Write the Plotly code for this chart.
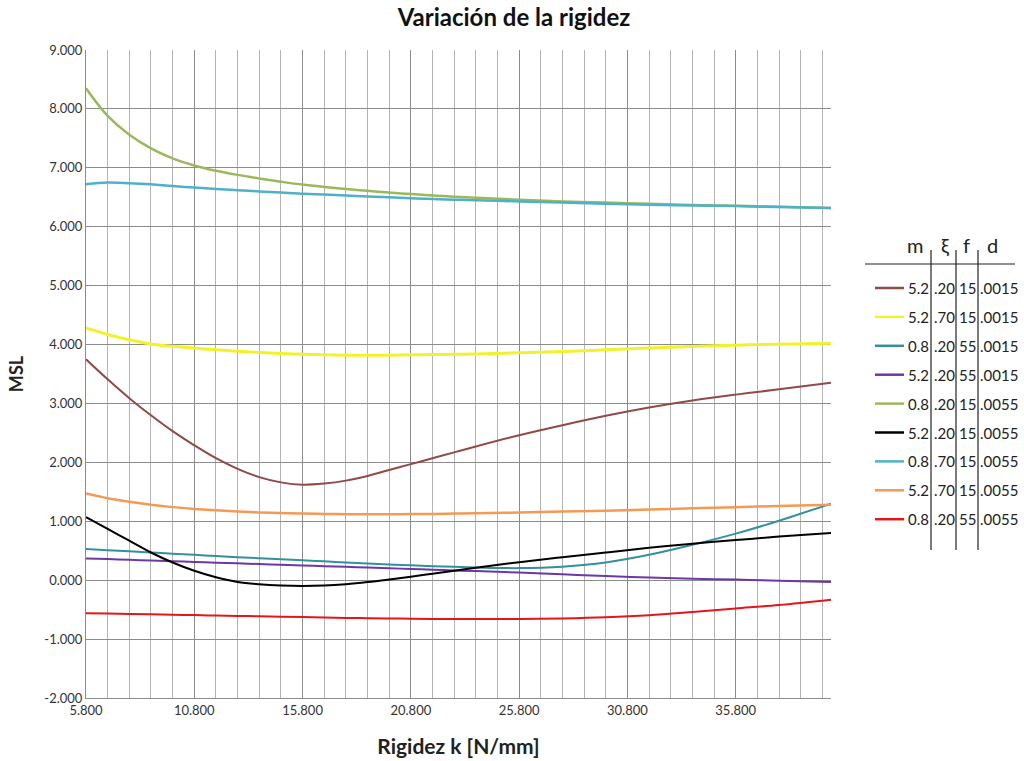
import plotly.graph_objects as go

# ---- data ----
k_vals = [5.8, 6.8, 7.8, 8.8, 9.8, 10.8, 11.8, 12.8, 13.8, 14.8, 15.8, 16.8, 17.8, 18.8,
          19.8, 20.8, 21.8, 22.8, 23.8, 25.8, 27.8, 29.8, 31.8, 33.8, 35.8, 37.8, 40.2]

brown = [3.75, 3.41, 3.09, 2.80, 2.53, 2.29, 2.07, 1.89, 1.75, 1.66, 1.62, 1.64, 1.69, 1.77,
         1.87, 1.97, 2.07, 2.17, 2.27, 2.46, 2.63, 2.79, 2.93, 3.05, 3.15, 3.24, 3.35]
yellow = [4.28, 4.17, 4.08, 4.01, 3.97, 3.94, 3.91, 3.885, 3.865, 3.85, 3.835, 3.825, 3.82, 3.82,
          3.82, 3.825, 3.83, 3.835, 3.84, 3.86, 3.88, 3.91, 3.94, 3.965, 3.99, 4.005, 4.02]
teal = [0.53, 0.51, 0.49, 0.47, 0.45, 0.43, 0.41, 0.39, 0.372, 0.355, 0.338, 0.32, 0.302, 0.285,
        0.268, 0.252, 0.238, 0.226, 0.216, 0.205, 0.23, 0.30, 0.43, 0.60, 0.79, 1.01, 1.30]
purple = [0.37, 0.358, 0.346, 0.334, 0.322, 0.31, 0.298, 0.286, 0.274, 0.262, 0.25, 0.238, 0.226, 0.214,
          0.202, 0.19, 0.178, 0.166, 0.154, 0.13, 0.10, 0.07, 0.045, 0.025, 0.01, -0.01, -0.03]
green = [8.35, 7.88, 7.56, 7.33, 7.16, 7.04, 6.95, 6.88, 6.82, 6.765, 6.715, 6.675, 6.64, 6.61,
         6.58, 6.555, 6.53, 6.51, 6.49, 6.46, 6.43, 6.41, 6.39, 6.37, 6.355, 6.34, 6.32]
black = [1.07, 0.87, 0.67, 0.47, 0.30, 0.16, 0.05, -0.03, -0.07, -0.092, -0.10, -0.092, -0.068, -0.032,
         0.012, 0.06, 0.11, 0.16, 0.21, 0.305, 0.39, 0.47, 0.55, 0.62, 0.68, 0.74, 0.80]
lightblue = [6.72, 6.75, 6.74, 6.72, 6.69, 6.665, 6.64, 6.62, 6.60, 6.58, 6.56, 6.545, 6.53, 6.515,
             6.50, 6.485, 6.47, 6.46, 6.45, 6.43, 6.41, 6.39, 6.375, 6.36, 6.35, 6.335, 6.32]
orange = [1.47, 1.39, 1.33, 1.28, 1.24, 1.21, 1.185, 1.165, 1.15, 1.14, 1.13, 1.125, 1.12, 1.12,
          1.12, 1.122, 1.125, 1.13, 1.135, 1.15, 1.165, 1.18, 1.20, 1.22, 1.24, 1.26, 1.28]
red = [-0.56, -0.567, -0.573, -0.58, -0.587, -0.593, -0.60, -0.607, -0.613, -0.62, -0.627, -0.633, -0.64, -0.645,
       -0.65, -0.654, -0.657, -0.659, -0.66, -0.66, -0.65, -0.63, -0.595, -0.54, -0.48, -0.42, -0.33]

leg_m = ["5.2", "5.2", "0.8", "5.2", "0.8", "5.2", "0.8", "5.2", "0.8"]
leg_xi = [".20", ".70", ".20", ".20", ".20", ".20", ".70", ".70", ".20"]
leg_f = ["15", "15", "55", "55", "15", "15", "15", "15", "55"]
leg_d = [".0015", ".0015", ".0015", ".0015", ".0055", ".0055", ".0055", ".0055", ".0055"]
header = ["m", "ξ", "f", "d"]

x_ticks = [5.8, 10.8, 15.8, 20.8, 25.8, 30.8, 35.8]
y_ticks = [-2, -1, 0, 1, 2, 3, 4, 5, 6, 7, 8, 9]

series = [brown, yellow, teal, purple, green, black, lightblue, orange, red]
colors = ["#8f4a4a", "#f2f22c", "#33909d", "#6f36a6", "#9bb85a", "#000000", "#4fb1c8", "#f39a55", "#e3161b"]
widths = [2, 3, 2, 2, 2.5, 2, 2.5, 2.5, 2]

# ---- figure ----
fig = go.Figure()
for ys, c, w, m, xi, f, d in zip(series, colors, widths, leg_m, leg_xi, leg_f, leg_d):
    fig.add_trace(go.Scatter(x=k_vals, y=ys, mode="lines",
                             line=dict(color=c, width=w, shape="spline", smoothing=1.0),
                             name=f"{m} {xi} {f} {d}", showlegend=False))

L, R, T, B = 86, 831, 50, 698
W, H = 1024, 761


def px(xp):
    return (xp - L) / (R - L)


def py(yp):
    return (B - yp) / (B - T)


shapes = []
annotations = []
# header
head_x = [915, 945, 966, 992]
for h, hx in zip(header, head_x):
    annotations.append(dict(x=px(hx), y=py(245), xref="paper", yref="paper", text=h,
                            xanchor="center", yanchor="middle",
                            showarrow=False, font=dict(size=20, color="#222", family="Lato")))
shapes.append(dict(type="line", xref="paper", yref="paper", x0=px(865), x1=px(1015),
                   y0=py(264), y1=py(264), line=dict(color="#222", width=1.2)))
for vx in [931, 956, 978]:
    shapes.append(dict(type="line", xref="paper", yref="paper", x0=px(vx), x1=px(vx),
                       y0=py(250), y1=py(550), line=dict(color="#222", width=1.2)))

row_y0, row_dy = 288, 28.9
for i, (c, m, xi, f, d) in enumerate(zip(colors, leg_m, leg_xi, leg_f, leg_d)):
    ry = row_y0 + i * row_dy
    shapes.append(dict(type="line", xref="paper", yref="paper", x0=px(875), x1=px(904),
                       y0=py(ry), y1=py(ry), line=dict(color=c, width=2.5)))
    fnt = dict(size=15, color="#222", family="Lato")
    for txt, tx, anc in [(m, 930, "right"), (xi, 944, "center"), (f, 967, "center"), (d, 979, "left")]:
        annotations.append(dict(x=px(tx), y=py(ry), xref="paper", yref="paper", text=txt,
                                xanchor=anc, yanchor="middle", showarrow=False,
                                font=fnt, borderpad=0))

fig.update_layout(
    width=W, height=H,
    margin=dict(l=L, r=W - R, t=T, b=H - B),
    paper_bgcolor="white", plot_bgcolor="white",
    font=dict(family="Lato", color="#333", size=13),
    title=dict(text="<b>Variación de la rigidez</b>", x=514 / W, xanchor="center",
               y=1 - 18 / H, yanchor="middle", font=dict(size=24, color="#111", family="Lato")),
    shapes=shapes, annotations=annotations,
    showlegend=False,
)
fig.update_xaxes(range=[5.8, 40.2], tickvals=x_ticks, ticktext=[f"{v:.3f}" for v in x_ticks],
                 showgrid=True, gridcolor="#8c8c8c", gridwidth=1, automargin=False,
                 minor=dict(dtick=1, tick0=5.8, showgrid=True, gridcolor="#b4b4b4", gridwidth=1),
                 showline=True, linecolor="#8c8c8c", linewidth=1, zeroline=False,
                 ticks="", tickfont=dict(size=13, color="#333"),
                 title=dict(text="<b>Rigidez k [N/mm]</b>", font=dict(size=21, color="#222"), standoff=22))
fig.update_yaxes(range=[-2, 9], tickvals=y_ticks, ticktext=[f"{v:.3f}" for v in y_ticks],
                 showgrid=True, gridcolor="#8c8c8c", gridwidth=1, automargin=False,
                 showline=True, linecolor="#8c8c8c", linewidth=1, zeroline=False,
                 ticks="", tickfont=dict(size=13, color="#333"),
                 title=dict(text="<b>MSL</b>", font=dict(size=18, color="#222"), standoff=16))

fig.write_html("out.html", config={"displayModeBar": False},
               post_script="document.body.style.margin='0';")
